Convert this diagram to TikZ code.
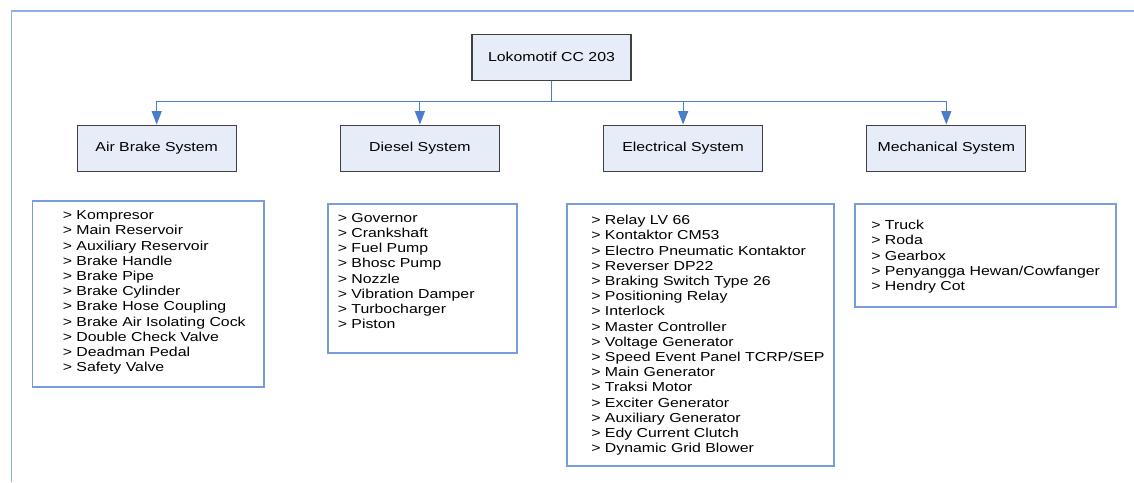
\documentclass[tikz,border=0pt]{standalone}
\usepackage{fontspec}
\setmainfont{Liberation Sans}[FakeStretch=1.22]
\usepackage{tikz-qtree}
\usetikzlibrary{arrows.meta,fit}
\definecolor{linkblue}{RGB}{74,126,200}
\definecolor{boxfill}{RGB}{230,237,248}
\definecolor{boxline}{RGB}{64,64,64}
\definecolor{listline}{RGB}{120,156,220}
\definecolor{frameline}{RGB}{141,176,232}

\begin{document}
\begin{tikzpicture}[x=0.75pt,y=-0.75pt,
every tree node/.style={draw=boxline,fill=boxfill,line width=0.9pt,minimum width=119.25pt,minimum height=34.5pt,anchor=north,font=\fontsize{9.75pt}{11.4pt}\selectfont},
level distance=68.25pt,sibling distance=77.25pt,
edge from parent/.style={draw=linkblue,line width=0.9pt,-{Triangle[length=10pt,width=7.5pt]}},
edge from parent path={(\tikzparentnode.south) -- +(0,-15.75pt) -| (\tikzchildnode.north)},
listframe/.style={draw=listline,line width=0.9pt,inner sep=0pt},
listtext/.style={anchor=north west,inner sep=0pt,align=left,font=\fontsize{9.75pt}{11.4pt}\selectfont}]
\useasboundingbox (0,0) rectangle (1134,482);
\draw[frameline,line width=1.1pt] (11.5,482) -- (11.5,11) -- (1134,11);
\begin{scope}[shift={(551.5,33.5)}]
\Tree [.\node(loko){Lokomotif CC 203};
\node(air){Air Brake System};
\node(dsl){Diesel System};
\node(elc){Electrical System};
\node(mch){Mechanical System};
]
\end{scope}

% component lists
\node[listframe,fit={(32.5,201) (264,387)}] (airlist) {};
\node[listtext] (airitems) at (62.5,210.5) {> Kompresor\\
> Main Reservoir\\
> Auxiliary Reservoir\\
> Brake Handle\\
> Brake Pipe\\
> Brake Cylinder\\
> Brake Hose Coupling\\
> Brake Air Isolating Cock\\
> Double Check Valve\\
> Deadman Pedal\\
> Safety Valve};

\node[listframe,fit={(328,204) (517,353)}] (dsllist) {};
\node[listtext] (dslitems) at (337.5,213) {> Governor\\
> Crankshaft\\
> Fuel Pump\\
> Bhosc Pump\\
> Nozzle\\
> Vibration Damper\\
> Turbocharger\\
> Piston};

\node[listframe,fit={(567,204) (834,466)}] (elclist) {};
\node[listtext] (elcitems) at (591,215) {> Relay LV 66\\
> Kontaktor CM53\\
> Electro Pneumatic Kontaktor\\
> Reverser DP22\\
> Braking Switch Type 26\\
> Positioning Relay\\
> Interlock\\
> Master Controller\\
> Voltage Generator\\
> Speed Event Panel TCRP/SEP\\
> Main Generator\\
> Traksi Motor\\
> Exciter Generator\\
> Auxiliary Generator\\
> Edy Current Clutch\\
> Dynamic Grid Blower};

\node[listframe,fit={(855,204) (1116,307)}] (mchlist) {};
\node[listtext] (mchitems) at (871,220) {> Truck\\
> Roda\\
> Gearbox\\
> Penyangga Hewan/Cowfanger\\
> Hendry Cot};

\end{tikzpicture}
\end{document}
